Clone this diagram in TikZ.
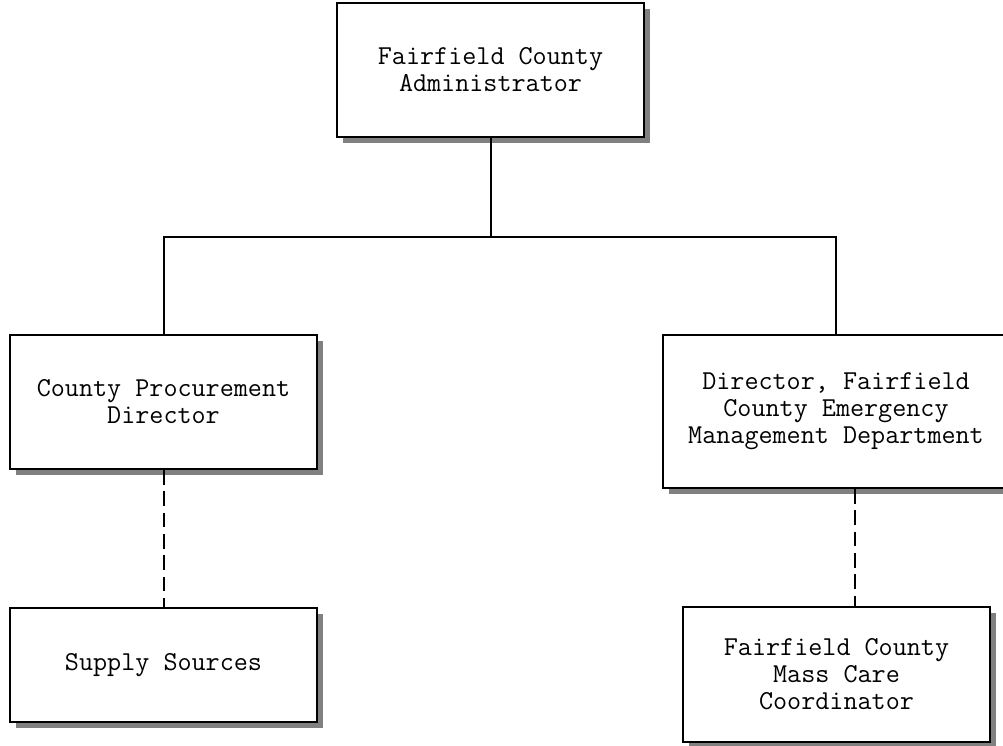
\documentclass[tikz,border=0pt]{standalone}
\usetikzlibrary{shadows}

\begin{document}
\begin{tikzpicture}[x=0.75pt, y=-0.75pt,
  orgbox/.style={draw, line width=1.5pt, fill=white, align=center,
    font=\ttfamily\fontsize{20.5}{20.25}\selectfont, minimum width=230.25pt,
    drop shadow={shadow xshift=4.5pt, shadow yshift=-4.5pt, fill=gray, opacity=1}},
  link/.style={line width=1.5pt},
  dotted link/.style={line width=1.5pt, dash pattern=on 11pt off 5pt}]
\clip (0, 0) rectangle (1003, 746);

\node[orgbox, minimum height=100.5pt] (admin) at (490.5, 70) {Fairfield County\\Administrator};
\node[orgbox, minimum height=100.5pt] (proc) at (163.5, 402) {County Procurement\\Director};
\node[orgbox, minimum width=259.5pt, minimum height=114.75pt] (emd) at (836, 411.5) {Director, Fairfield\\County Emergency\\Management Department};
\node[orgbox, minimum height=85.5pt] (supply) at (163.5, 665) {Supply Sources};
\node[orgbox, minimum height=101.25pt] (masscare) at (836.5, 674.5) {Fairfield County\\Mass Care\\Coordinator};

\coordinate (bus) at (490.5, 237);
\coordinate (dashx) at (855, 0);

\draw [link] (admin.south) -- (bus);
\draw [link] (proc.north) |- (bus) -| (emd.north);
\draw [dotted link] (proc.south) -- (supply.north);
\draw [dotted link] (emd.south -| dashx) -- (masscare.north -| dashx);

\end{tikzpicture}
\end{document}
